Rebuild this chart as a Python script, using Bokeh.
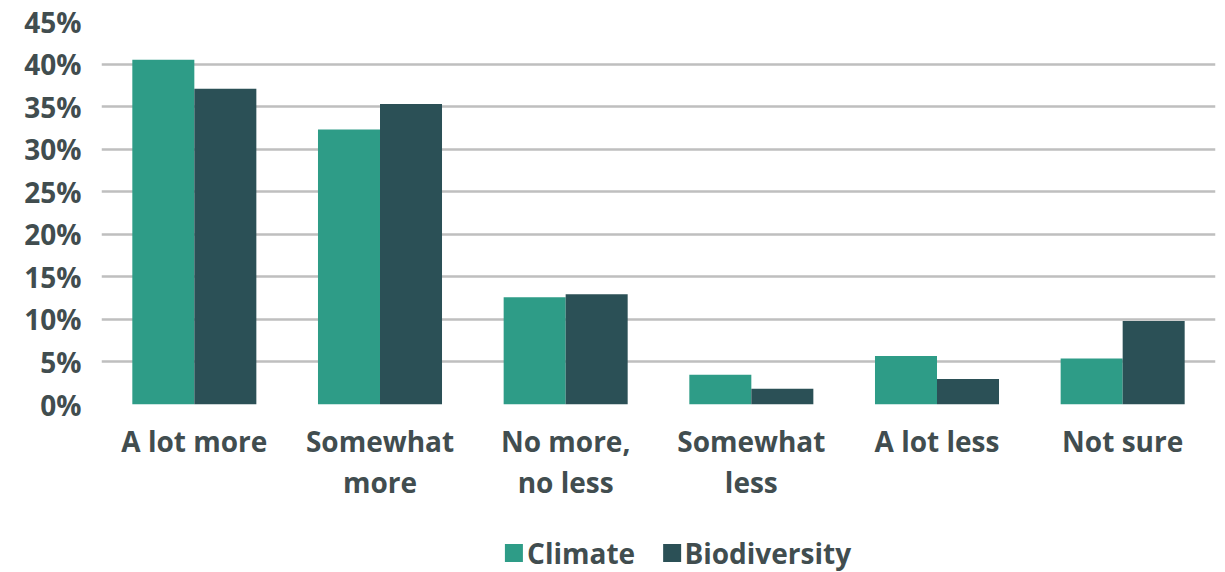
from bokeh.plotting import figure
from bokeh.layouts import column
from bokeh.models import ColumnDataSource, FixedTicker, PrintfTickFormatter
from bokeh.core.properties import value
from bokeh.transform import dodge
from bokeh.embed import file_html
from bokeh.resources import INLINE

# Survey responses (% of respondents)
categories = ["A lot more", "Somewhat\nmore", "No more,\nno less",
              "Somewhat\nless", "A lot less", "Not sure"]
climate = [40.5, 32.3, 12.6, 3.5, 5.7, 5.4]
biodiversity = [37.1, 35.3, 12.95, 1.85, 3.0, 9.8]
series = ["Climate", "Biodiversity"]
y_ticks = [0, 5, 10, 15, 20, 25, 30, 35, 40, 45]

CLIMATE_COLOR = "#2e9c87"
BIO_COLOR = "#2b5056"
TEXT_COLOR = "#414d4f"
FONT = "Open Sans"
FONT_SIZE = "28px"

source = ColumnDataSource(dict(cat=categories, climate=climate, bio=biodiversity))

p = figure(x_range=categories, y_range=(0, 45), width=1225, height=520,
           output_backend="svg", toolbar_location=None,
           min_border_left=101, min_border_right=10, min_border_top=21,
           min_border_bottom=116)

p.outline_line_color = None
p.background_fill_color = "white"
p.border_fill_color = "white"

bar_w = 0.334
p.vbar(x=dodge("cat", -bar_w / 2, range=p.x_range), top="climate",
       width=bar_w, source=source, fill_color=CLIMATE_COLOR, line_color=None)
p.vbar(x=dodge("cat", bar_w / 2, range=p.x_range), top="bio",
       width=bar_w, source=source, fill_color=BIO_COLOR, line_color=None)

# y axis
p.yaxis.ticker = FixedTicker(ticks=y_ticks)
p.yaxis.formatter = PrintfTickFormatter(format="%d%%")
p.yaxis.axis_line_color = None
p.yaxis.major_tick_line_color = None
p.yaxis.minor_tick_line_color = None
p.yaxis.major_label_standoff = 14
p.yaxis.major_label_text_font = FONT
p.yaxis.major_label_text_font_style = "bold"
p.yaxis.major_label_text_font_size = FONT_SIZE
p.yaxis.major_label_text_color = TEXT_COLOR

# x axis
p.xaxis.axis_line_color = None
p.xaxis.major_tick_line_color = None
p.xaxis.major_label_standoff = 11
p.xaxis.major_label_text_font = FONT
p.xaxis.major_label_text_font_style = "bold"
p.xaxis.major_label_text_font_size = FONT_SIZE
p.xaxis.major_label_text_color = TEXT_COLOR
p.xaxis.major_label_text_line_height = 1.08

# grid
p.xgrid.grid_line_color = None
p.ygrid.grid_line_color = "#bfbfbf"
p.ygrid.grid_line_width = 2.5

# legend strip beneath the chart (pixel coordinates)
leg = figure(width=1225, height=52, x_range=(0, 1225), y_range=(0, 52),
             output_backend="svg", toolbar_location=None,
             x_axis_type=None, y_axis_type=None,
             min_border_left=0, min_border_right=0, min_border_top=0,
             min_border_bottom=0)
leg.outline_line_color = None
leg.xgrid.grid_line_color = None
leg.ygrid.grid_line_color = None

legend_src = ColumnDataSource(dict(
    label=series,
    swatch_x=[453.5, 627.5],
    text_x=[468, 641],
    y=[19.5, 19.5],
    color=[CLIMATE_COLOR, BIO_COLOR],
))
leg.rect(x="swatch_x", y="y", width=18, height=18, width_units="screen",
         height_units="screen", fill_color="color", line_color=None,
         source=legend_src)
leg.text(x="text_x", y="y", text="label", source=legend_src,
         text_font=value(FONT), text_font_style="bold",
         text_font_size=FONT_SIZE, text_color=TEXT_COLOR,
         text_align="left", text_baseline="middle")

layout = column(p, leg, spacing=0)
open("out.html", "w").write(file_html(layout, INLINE))
